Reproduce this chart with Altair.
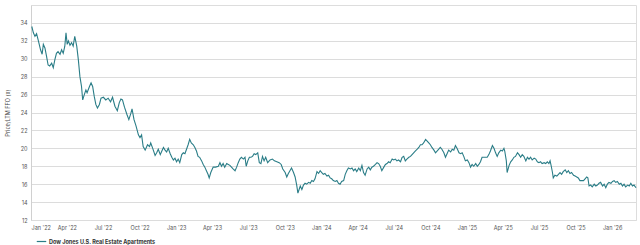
import altair as alt
import pandas as pd

dates = [
"2022-01-03","2022-01-07","2022-01-11","2022-01-15","2022-01-19","2022-01-25","2022-01-29","2022-02-01","2022-02-05","2022-02-09",
"2022-02-13","2022-02-17","2022-02-22","2022-02-26","2022-03-02","2022-03-06","2022-03-10","2022-03-15","2022-03-19","2022-03-23",
"2022-03-27","2022-03-30","2022-04-02","2022-04-05","2022-04-09","2022-04-13","2022-04-17","2022-04-21","2022-04-26","2022-04-30",
"2022-05-04","2022-05-08","2022-05-11","2022-05-15","2022-05-19","2022-05-22","2022-05-28","2022-06-01","2022-06-05","2022-06-09",
"2022-06-13","2022-06-17","2022-06-22","2022-06-26","2022-07-02","2022-07-08","2022-07-14","2022-07-20","2022-07-25","2022-07-31",
"2022-08-06","2022-08-11","2022-08-15","2022-08-19","2022-08-24","2022-08-30","2022-09-04","2022-09-09","2022-09-12","2022-09-17",
"2022-09-22","2022-09-28","2022-10-02","2022-10-06","2022-10-10","2022-10-15","2022-10-21","2022-10-26","2022-10-29","2022-11-03",
"2022-11-09","2022-11-13","2022-11-17","2022-11-22","2022-11-26","2022-11-30","2022-12-04","2022-12-08","2022-12-12","2022-12-17",
"2022-12-21","2022-12-25","2022-12-29","2023-01-02","2023-01-06","2023-01-10","2023-01-15","2023-01-19","2023-01-23","2023-01-27",
"2023-01-31","2023-02-04","2023-02-08","2023-02-13","2023-02-17","2023-02-21","2023-02-25","2023-03-01","2023-03-06","2023-03-10",
"2023-03-14","2023-03-18","2023-03-22","2023-03-25","2023-03-29","2023-04-04","2023-04-10","2023-04-17","2023-04-21","2023-04-25",
"2023-04-29","2023-05-03","2023-05-08","2023-05-12","2023-05-16","2023-05-20","2023-05-24","2023-05-29","2023-06-02","2023-06-06",
"2023-06-10","2023-06-14","2023-06-19","2023-06-23","2023-06-26","2023-06-30","2023-07-04","2023-07-08","2023-07-12","2023-07-16",
"2023-07-20","2023-07-25","2023-07-29","2023-08-02","2023-08-06","2023-08-10","2023-08-14","2023-08-19","2023-08-25","2023-08-31",
"2023-09-05","2023-09-11","2023-09-17","2023-09-22","2023-09-26","2023-10-02","2023-10-06","2023-10-10","2023-10-14","2023-10-18",
"2023-10-23","2023-10-27","2023-10-31","2023-11-03","2023-11-06","2023-11-09","2023-11-13","2023-11-17","2023-11-21","2023-11-25",
"2023-11-30","2023-12-04","2023-12-08","2023-12-12","2023-12-16","2023-12-21","2023-12-25","2023-12-29","2024-01-02","2024-01-06",
"2024-01-10","2024-01-15","2024-01-19","2024-01-23","2024-01-27","2024-01-31","2024-02-05","2024-02-09","2024-02-13","2024-02-17",
"2024-02-21","2024-02-26","2024-03-01","2024-03-05","2024-03-09","2024-03-14","2024-03-18","2024-03-22","2024-03-26","2024-03-30",
"2024-04-04","2024-04-08","2024-04-12","2024-04-16","2024-04-20","2024-04-25","2024-04-29","2024-05-03","2024-05-07","2024-05-11",
"2024-05-16","2024-05-20","2024-05-24","2024-05-28","2024-06-01","2024-06-06","2024-06-10","2024-06-14","2024-06-18","2024-06-22",
"2024-06-27","2024-07-01","2024-07-05","2024-07-09","2024-07-13","2024-07-18","2024-07-22","2024-07-26","2024-07-30","2024-08-03",
"2024-08-08","2024-08-12","2024-08-16","2024-08-20","2024-08-24","2024-08-29","2024-09-02","2024-09-06","2024-09-10","2024-09-14",
"2024-09-19","2024-09-23","2024-09-27","2024-10-01","2024-10-05","2024-10-10","2024-10-14","2024-10-20","2024-10-26","2024-10-30",
"2024-11-04","2024-11-08","2024-11-12","2024-11-16","2024-11-21","2024-11-25","2024-11-29","2024-12-03","2024-12-07","2024-12-12",
"2024-12-16","2024-12-20","2024-12-24","2024-12-28","2025-01-02","2025-01-06","2025-01-10","2025-01-14","2025-01-18","2025-01-23",
"2025-01-27","2025-01-31","2025-02-04","2025-02-08","2025-02-13","2025-02-17","2025-02-21","2025-02-25","2025-03-01","2025-03-06",
"2025-03-10","2025-03-14","2025-03-18","2025-03-22","2025-03-27","2025-03-31","2025-04-04","2025-04-06","2025-04-10","2025-04-12",
"2025-04-17","2025-04-21","2025-04-25","2025-04-29","2025-05-03","2025-05-08","2025-05-12","2025-05-16","2025-05-20","2025-05-24",
"2025-05-29","2025-06-02","2025-06-06","2025-06-10","2025-06-14","2025-06-19","2025-06-23","2025-06-27","2025-07-01","2025-07-05",
"2025-07-09","2025-07-14","2025-07-18","2025-07-22","2025-07-26","2025-07-29","2025-08-01","2025-08-04","2025-08-06","2025-08-10",
"2025-08-15","2025-08-19","2025-08-23","2025-08-27","2025-08-31","2025-09-05","2025-09-09","2025-09-13","2025-09-17","2025-09-21",
"2025-09-26","2025-09-30","2025-10-04","2025-10-08","2025-10-12","2025-10-17","2025-10-21","2025-10-25","2025-10-29","2025-11-01",
"2025-11-04","2025-11-08","2025-11-12","2025-11-17","2025-11-21","2025-11-25","2025-11-29","2025-12-03","2025-12-08","2025-12-12",
"2025-12-16","2025-12-20","2025-12-24","2025-12-29","2026-01-02","2026-01-06","2026-01-10","2026-01-14","2026-01-19","2026-01-23",
"2026-01-27","2026-01-31","2026-02-04","2026-02-09","2026-02-13","2026-02-17","2026-02-21","2026-02-25","2026-03-02",
]

values = [
33.6,32.9,32.5,32.8,32.1,31.0,30.5,31.6,31.2,30.3,
29.3,29.2,29.5,29.0,29.9,30.6,30.8,30.5,31.0,30.6,
31.4,32.9,31.6,32.0,31.5,31.8,31.4,32.5,31.4,29.9,
28.0,26.9,25.4,26.0,26.5,26.2,26.9,27.3,26.9,25.8,
24.9,24.5,24.9,25.6,25.7,25.4,25.6,25.2,25.7,24.7,
24.2,25.1,25.5,25.4,24.6,23.8,23.2,23.9,24.4,23.2,
22.5,21.5,21.2,21.5,20.2,19.8,20.4,20.2,20.6,20.0,
19.2,19.5,19.9,19.3,19.7,20.1,19.8,19.6,20.0,19.4,
19.0,18.7,18.9,18.5,18.8,18.4,19.3,19.5,19.4,19.9,
20.4,21.0,20.6,20.4,20.1,19.7,19.1,19.0,18.6,18.2,
17.9,17.5,17.1,16.7,17.3,17.9,17.9,18.0,18.4,18.0,
18.3,17.9,18.3,18.2,18.1,17.9,17.7,17.5,17.9,18.4,
18.8,19.0,18.8,19.0,18.0,18.6,19.0,19.0,19.1,19.4,
19.3,19.5,18.4,18.3,19.1,18.6,19.0,18.4,18.7,18.8,
18.6,18.5,18.4,18.2,17.7,17.3,16.8,17.2,17.5,17.8,
17.3,16.8,15.9,15.0,15.4,15.8,15.4,15.9,16.1,16.0,
16.2,16.1,16.4,16.3,16.6,17.4,17.2,17.5,17.3,17.1,
17.2,16.9,17.0,16.7,16.6,16.4,16.3,16.4,16.1,16.0,
16.3,16.4,17.1,17.5,17.8,17.7,17.8,17.5,17.7,17.4,
17.8,17.5,18.1,17.3,17.0,17.7,17.9,17.6,17.9,18.0,
18.2,18.4,18.3,18.0,17.5,17.9,18.2,18.3,18.5,18.4,
18.8,18.7,18.8,18.6,18.7,18.5,19.0,19.1,18.6,18.8,
19.0,19.1,19.3,19.5,19.7,19.9,20.1,20.4,20.4,20.6,
21.0,20.8,20.6,20.4,20.1,19.8,19.5,19.8,20.1,19.9,
19.5,19.0,19.4,19.8,19.6,19.9,19.8,20.3,20.0,19.5,
19.4,19.5,19.1,18.6,18.7,18.4,17.9,18.2,18.0,18.3,
18.0,18.2,18.5,19.0,19.0,19.0,19.0,19.3,19.7,20.3,
20.0,19.5,19.1,19.5,19.8,19.7,20.0,19.7,18.6,17.3,
18.1,18.5,18.7,19.0,19.1,19.5,19.3,19.0,19.3,19.1,
18.6,19.0,18.8,19.0,18.7,18.9,18.8,18.5,18.4,18.5,
18.3,18.4,18.3,18.5,18.3,18.6,18.0,17.3,16.7,17.0,
16.9,17.1,17.3,17.1,17.4,17.6,17.3,17.5,17.2,17.3,
17.0,16.9,16.8,16.7,16.4,16.4,16.4,16.6,16.8,16.7,
15.8,15.9,15.7,16.0,15.8,15.9,16.1,16.2,15.8,16.0,
15.6,16.0,16.2,16.1,16.3,16.4,16.2,16.3,16.0,16.1,
15.8,16.0,15.7,15.9,15.8,16.1,15.8,15.9,15.6,
]

series_name = "Dow Jones U.S. Real Estate Apartments"
y_ticks = [12, 14, 16, 18, 20, 22, 24, 26, 28, 30, 32, 34]

df = pd.DataFrame({"date": dates, "value": values, "series": series_name})

FONT = "Inter"
LINE = "#2a7d87"

chart = alt.Chart(df).mark_line(strokeWidth=1.1, color=LINE).encode(
    x=alt.X(
        "date:T",
        scale=alt.Scale(domain=[alt.DateTime(year=2022, month=1, date=1),
                                alt.DateTime(year=2026, month=3, date=2)]),
        axis=alt.Axis(
            title=None, format="%b '%y", tickCount={"interval": "month", "step": 3},
            grid=False, ticks=False, domain=False, labelFont=FONT, labelFontSize=5.5,
            labelColor="#555555", labelPadding=5,
        ),
    ),
    y=alt.Y(
        "value:Q",
        scale=alt.Scale(domain=[12, 36], nice=False, zero=False),
        axis=alt.Axis(
            title="Price/LTM FFO (x)", values=y_ticks, grid=True, gridColor="#dcdcdc",
            gridWidth=1, ticks=False, domain=True, domainColor="#d0d0d0",
            labelFont=FONT, labelFontSize=5.5, labelColor="#555555", labelPadding=4,
            titleFont=FONT, titleFontSize=5.5, titleFontWeight="normal",
            titleColor="#444444", titlePadding=10,
        ),
    ),
    color=alt.Color(
        "series:N",
        scale=alt.Scale(range=[LINE]),
        legend=alt.Legend(
            title=None, orient="none", legendX=5, legendY=231, symbolType="stroke",
            symbolSize=90, symbolStrokeWidth=1.2, labelFont=FONT, labelFontSize=5.5,
            labelFontWeight="bold", labelColor="#333333", labelOffset=2,
        ),
    ),
).properties(
    width=605, height=215,
    autosize=alt.AutoSizeParams(type="none"),
    padding={"left": 31, "top": 5, "right": 4, "bottom": 25},
).configure_view(stroke="#dcdcdc", strokeWidth=1).configure(background="white")

chart.save("out.html", embed_options={"renderer": "svg", "actions": False})
